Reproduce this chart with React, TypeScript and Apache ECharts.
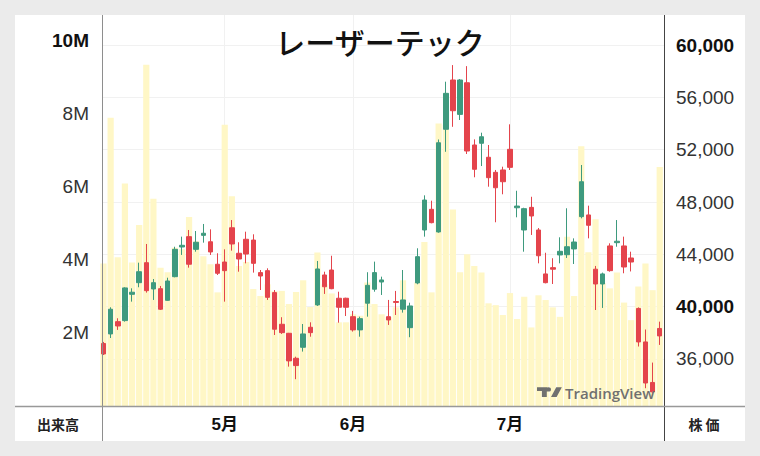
import React, { useEffect, useRef } from 'react';
import * as echarts from 'echarts';

const chartTitle = 'レーザーテック';

const opens = [
  37180, 37910, 38850, 38930, 40940, 41830, 43360, 41350, 41370, 40480,
  42290, 44560, 45350, 44380, 45450, 44960, 43240, 43410, 46030, 44080,
  45150, 45090, 42600, 42750, 41070, 38650, 37960, 36050, 36890, 38420,
  40130, 42420, 42800, 40640, 40640, 39230, 38220, 40260, 41330, 41880,
  39230, 40390, 39800, 38390, 41810, 45860, 47440, 45710, 53560, 57330,
  54700, 57120, 52360, 52490, 51420, 50270, 50450, 52030, 47560, 45860,
  47590, 45860, 42500, 42980, 43950, 43970, 44410, 46880, 47010, 42860,
  41730, 44640, 44890, 44640, 43720, 39860, 37300, 34200, 38330,
];
const closes = [
  36380, 39800, 38520, 41430, 41100, 42670, 41220, 41830, 39800, 41960,
  44380, 44690, 43240, 44920, 45610, 44180, 42550, 42750, 44790, 43640,
  44020, 43310, 42340, 40710, 38270, 38010, 35850, 35490, 37910, 38010,
  42880, 41520, 41370, 39950, 39950, 38220, 39080, 41630, 42600, 42040,
  38980, 40320, 40510, 40050, 43820, 48150, 46420, 52530, 56310, 54980,
  57330, 51900, 50500, 52990, 49860, 49090, 49550, 50650, 47690, 47490,
  46930, 43890, 41830, 42860, 44230, 44580, 44940, 49550, 46220, 41730,
  42500, 42750, 45000, 43030, 43410, 37300, 34160, 33480, 37760,
];
const lows = [
  36300, 37600, 38220, 38850, 40380, 41480, 41070, 40510, 39740, 40450,
  42240, 43950, 42980, 44200, 44890, 43950, 42420, 40380, 44280, 42670,
  43310, 42600, 41270, 40510, 37830, 37910, 35410, 34450, 36560, 37700,
  40050, 40970, 41330, 38770, 39280, 38090, 37700, 39230, 41140, 40890,
  38600, 39360, 39540, 37660, 41710, 45350, 46370, 45650, 51840, 53750,
  54270, 51670, 49890, 50750, 49170, 46450, 48590, 50450, 46830, 44200,
  45480, 43310, 41780, 41730, 43310, 43720, 43260, 46750, 45220, 39740,
  39900, 42670, 44580, 42550, 42690, 36950, 33760, 33380, 37070,
];
const highs = [
  37300, 39950, 39110, 41480, 41400, 43360, 44790, 42110, 41580, 42210,
  44580, 45350, 45860, 45780, 46320, 45910, 44080, 44380, 46620, 44920,
  45730, 45530, 42800, 42930, 41270, 39190, 37990, 36170, 38670, 38800,
  43490, 42670, 43890, 41140, 40680, 39670, 39230, 42630, 43440, 42290,
  40510, 41200, 42800, 40300, 44460, 48510, 48100, 52780, 57200, 58470,
  57400, 58390, 52790, 53300, 52360, 50450, 50700, 53940, 48860, 47560,
  48400, 46010, 44120, 43700, 45300, 47520, 45220, 50830, 47720, 43110,
  42600, 44840, 46620, 45350, 44200, 39940, 38250, 35720, 38850,
];
const volumes = [
  3900000, 7890000, 4070000, 6090000, 3930000, 4950000, 9340000, 5670000, 3780000, 3660000,
  4330000, 4290000, 5170000, 4510000, 4100000, 3880000, 3110000, 7700000, 5740000, 3830000,
  3940000, 3200000, 3010000, 3330000, 3140000, 3150000, 2790000, 3120000, 3440000, 2710000,
  4200000, 3330000, 3080000, 2290000, 2290000, 2510000, 2470000, 3380000, 2790000, 2510000,
  2430000, 2700000, 3440000, 2600000, 3380000, 4490000, 3110000, 7730000, 7700000, 5380000,
  3660000, 4150000, 3830000, 3650000, 2810000, 2760000, 2490000, 3090000, 2380000, 2990000,
  2150000, 3030000, 2900000, 2700000, 2440000, 4630000, 3010000, 7110000, 4210000, 5110000,
  3360000, 3220000, 3650000, 2830000, 2350000, 3270000, 3900000, 3170000, 6540000,
];

const monthTickIndex = [17, 35, 57];
const monthLabels = ['5月', '6月', '7月'];
const volumeTicks = [2000000, 4000000, 6000000, 8000000, 10000000];
const boldVolumeTicks = [10000000];
const priceTicks = [36000, 40000, 44000, 48000, 52000, 56000, 60000];
const boldPriceTicks = [40000, 60000];

const UP = '#3e9a7e';
const DOWN = '#e4444c';
const VOL = '#fff7c6';
const GRID = '#f1f1f1';
const NUM_FONT = "'Liberation Sans', Arial, sans-serif";
const JP_FONT = "'Noto Sans CJK JP', sans-serif";

const tvLogoPath =
  'M14 22H7V11H0V4h14v18zM28 22h-8l7.5-18h8L28 22zM20 8a4 4 0 1 1-8 0 4 4 0 0 1 8 0z';

let logoRegistered = false;

export default function App() {
  const ref = useRef<HTMLDivElement>(null);

  useEffect(() => {
    if (!ref.current) return;
    if (!logoRegistered) {
      echarts.graphic.registerShape('tvlogo', echarts.graphic.extendPath(tvLogoPath, {}));
      logoRegistered = true;
    }
    const chart = echarts.init(ref.current, null, { renderer: 'svg' });

    const candleData = opens.map((o, i) => [i, o, closes[i], lows[i], highs[i]]);
    const volData = volumes.map((v, i) => [i, v]);

    chart.setOption({
      animation: false,
      backgroundColor: '#ffffff',
      title: {
        text: chartTitle,
        left: 'center',
        top: 6,
        textStyle: {
          fontFamily: JP_FONT,
          fontSize: 30,
          fontWeight: 500,
          color: '#111111',
        },
      },
      grid: { left: 87, right: 81, top: 0, bottom: 35 },
      xAxis: {
        type: 'value',
        min: -0.21,
        max: 78.6,
        axisLine: { show: false },
        axisTick: { show: false, customValues: monthTickIndex },
        axisLabel: {
          customValues: monthTickIndex,
          formatter: (v: number) => {
            const k = monthTickIndex.indexOf(Math.round(v));
            return k >= 0 ? monthLabels[k] : '';
          },
          margin: 10,
          fontSize: 17,
          fontWeight: 'bold',
          color: '#111111',
          fontFamily: NUM_FONT + ", 'Noto Sans CJK JP'",
        },
        splitLine: { show: true, lineStyle: { color: GRID, width: 1 } },
      },
      yAxis: [
        {
          type: 'value',
          position: 'left',
          min: 0,
          max: 10700000,
          axisLine: { show: false },
          axisTick: { show: false, customValues: volumeTicks },
          splitLine: { show: false },
          axisLabel: {
            customValues: volumeTicks,
            margin: 13,
            fontSize: 19,
            color: '#333333',
            fontFamily: NUM_FONT,
            formatter: (v: number) => {
              const s = v / 1000000 + 'M';
              return boldVolumeTicks.indexOf(v) >= 0 ? '{b|' + s + '}' : s;
            },
            rich: {
              b: { fontSize: 19, fontWeight: 'bold', color: '#111111', fontFamily: NUM_FONT },
            },
          },
        },
        {
          type: 'value',
          position: 'right',
          min: 32400,
          max: 62300,
          axisLine: { show: false },
          axisTick: { show: false, customValues: priceTicks },
          splitLine: { show: true, lineStyle: { color: GRID, width: 1 } },
          axisLabel: {
            customValues: priceTicks,
            margin: 12,
            fontSize: 19,
            color: '#333333',
            fontFamily: NUM_FONT,
            formatter: (v: number) => {
              const s = v.toLocaleString('en-US');
              return boldPriceTicks.indexOf(v) >= 0 ? '{b|' + s + '}' : s;
            },
            rich: {
              b: { fontSize: 19, fontWeight: 'bold', color: '#111111', fontFamily: NUM_FONT },
            },
          },
        },
      ],
      series: [
        {
          type: 'bar',
          xAxisIndex: 0,
          yAxisIndex: 0,
          data: volData,
          barWidth: 6.2,
          itemStyle: { color: VOL },
          silent: true,
          z: 1,
        },
        {
          type: 'candlestick',
          xAxisIndex: 0,
          yAxisIndex: 1,
          data: candleData,
          encode: { x: 0, y: [1, 2, 3, 4] },
          barWidth: 5,
          itemStyle: {
            color: UP,
            color0: DOWN,
            borderColor: UP,
            borderColor0: DOWN,
            borderWidth: 1,
          },
          silent: true,
          z: 3,
        },
      ],
      graphic: [
        {
          type: 'line',
          z: 100,
          shape: { x1: 87.5, y1: 0, x2: 87.5, y2: 426 },
          style: { stroke: '#8e8e8e', lineWidth: 1 },
        },
        {
          type: 'line',
          z: 100,
          shape: { x1: 649.5, y1: 0, x2: 649.5, y2: 426 },
          style: { stroke: '#444444', lineWidth: 1 },
        },
        {
          type: 'line',
          z: 100,
          shape: { x1: 0, y1: 391.5, x2: 730, y2: 391.5 },
          style: { stroke: '#999999', lineWidth: 1.5 },
        },
        {
          type: 'text',
          z: 100,
          x: 43,
          y: 409,
          style: {
            text: '出来高',
            align: 'center',
            verticalAlign: 'middle',
            fontSize: 14,
            fontWeight: 'bold',
            fontFamily: JP_FONT,
            fill: '#222222',
          },
        },
        {
          type: 'text',
          z: 100,
          x: 689,
          y: 409,
          style: {
            text: '株 価',
            align: 'center',
            verticalAlign: 'middle',
            fontSize: 14,
            fontWeight: 'bold',
            fontFamily: JP_FONT,
            fill: '#222222',
          },
        },
        {
          type: 'tvlogo',
          z: 100,
          x: 522,
          y: 370,
          scaleX: 0.7,
          scaleY: 0.55,
          style: { fill: '#707070' },
        },
        {
          type: 'text',
          z: 100,
          x: 550,
          y: 378,
          style: {
            text: 'TradingView',
            align: 'left',
            verticalAlign: 'middle',
            fontSize: 15,
            fontWeight: 600,
            fontFamily: "'Open Sans', sans-serif",
            fill: '#707070',
          },
        },
      ],
    });

    return () => chart.dispose();
  }, []);

  return (
    <div
      style={{
        position: 'absolute',
        left: 0,
        top: 0,
        width: 760,
        height: 456,
        background: '#ebebeb',
      }}
    >
      <div
        ref={ref}
        style={{ position: 'absolute', left: 15, top: 15, width: 730, height: 426 }}
      />
    </div>
  );
}
